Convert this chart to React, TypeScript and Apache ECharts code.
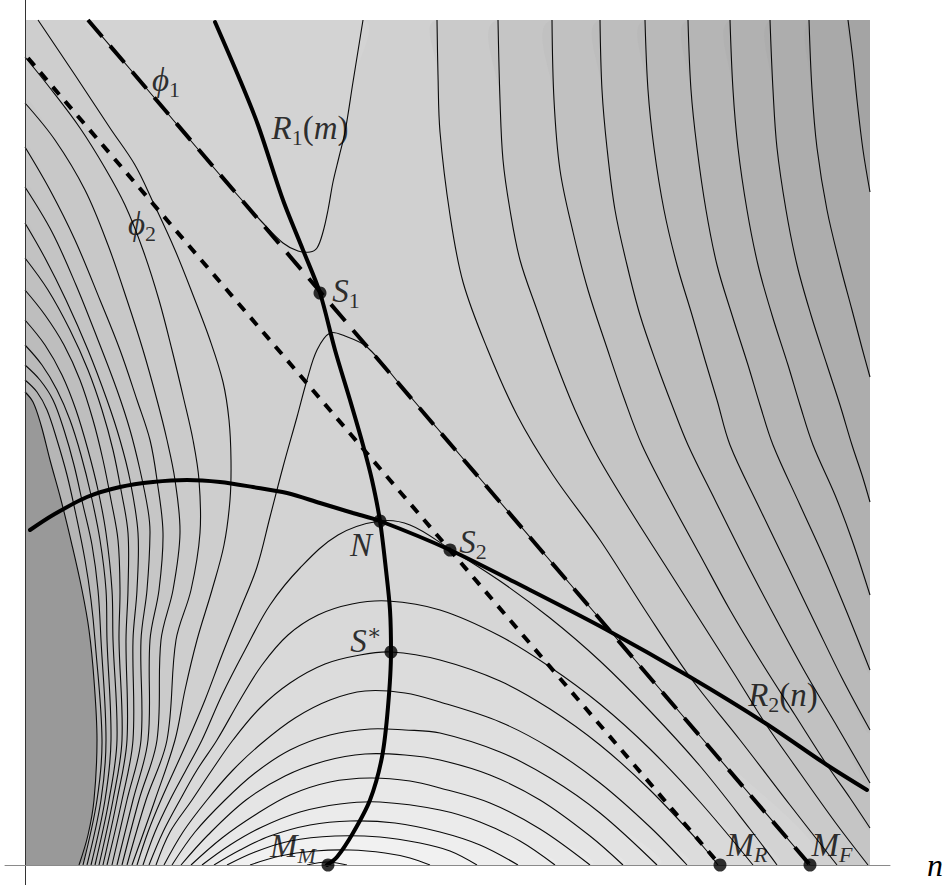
import React, { useEffect, useRef } from "react";
import * as echarts from "echarts";

type P = [number, number];

// Plot frame (axis units): n from 0 to 845, m from 0 to 845
const N_MAX = 845;
const M_MAX = 845;

// ---- Level curves, points are (n, m) ----
// left family (from the left/top edge down to the n axis)
const L0: P[] = [[0,473],[8,463],[16,440],[25,405],[36,365],[47,320],[57,275],[64,235],[69,185],[72,125],[69,65],[63,30],[54,0]];
const L1: P[] = [[0,485],[12,473],[22,455],[32,425],[42,390],[51,350],[60,305],[66,265],[70,225],[77,125],[72,65],[58,0]];
const L2: P[] = [[0,500],[15,485],[28,465],[39,435],[49,400],[58,360],[67,320],[73,275],[76,225],[81,125],[76,65],[62,0]];
const L3: P[] = [[0,520],[17,500],[32,475],[45,445],[56,410],[66,370],[75,325],[81,275],[82,225],[86,125],[80,65],[66,0]];
const L4: P[] = [[0,545],[20,520],[37,490],[51,455],[63,415],[73,375],[81,332],[87,275],[88,225],[92,125],[84,65],[70,0]];
const L5: P[] = [[0,575],[20,550],[39,520],[55,485],[68,445],[78,405],[86,365],[93,325],[95,275],[94,225],[97,125],[88,65],[74,0]];
const L6: P[] = [[0,607],[23,575],[45,535],[63,495],[77,455],[88,415],[96,375],[103,332],[103,275],[101,225],[102,125],[92,65],[78,0]];
const L7: P[] = [[0,642],[20,607],[41,565],[63,515],[82,465],[95,425],[105,385],[113,332],[112,275],[108,225],[108,125],[97,65],[82,0]];
const L8: P[] = [[0,678],[27,633],[51,580],[73,525],[92,475],[105,435],[115,395],[123,355],[125,332],[122,275],[116,225],[116,125],[102,65],[87,0]];
const L9: P[] = [[0,718],[25,675],[50,625],[75,565],[95,515],[112,465],[125,425],[132,385],[138,332],[134,275],[125,225],[123,125],[108,65],[92,0]];
const L10: P[] = [[0,762],[30,725],[60,675],[83,620],[102,565],[118,515],[132,465],[142,425],[150,385],[155,332],[148,275],[136,225],[132,125],[114,65],[97,0]];
const L11: P[] = [[0,808],[25,777],[55,737],[80,697],[100,660],[118,615],[134,565],[147,515],[159,465],[168,425],[174,385],[175,332],[166,275],[151,225],[142,125],[121,65],[102,0]];
const L12: P[] = [[13,845],[50,790],[85,737],[110,700],[128,663],[150,615],[168,570],[185,525],[198,483],[204,445],[206,405],[205,365],[199,320],[187,275],[172,225],[160,175],[150,125],[130,65],[107,0]];

// right family (from the top edge down to the right edge / n axis)
const Q1: P[] = [[412,845],[413,790],[415,733],[425,650],[438,583],[462,517],[492,450],[528,390],[575,325],[620,255],[665,188],[715,125],[765,60],[812,0]];
const Q2: P[] = [[473,845],[475,765],[478,705],[485,655],[495,605],[512,555],[530,505],[550,455],[572,410],[605,355],[640,300],[675,245],[710,190],[740,142],[775,92],[810,43],[843,0]];
const Q3: P[] = [[527,845],[529,765],[535,695],[548,633],[563,575],[582,517],[599,467],[617,420],[645,365],[675,310],[705,255],[735,205],[770,150],[802,100],[825,67],[845,37]];
const Q4: P[] = [[575,845],[577,775],[582,717],[590,655],[602,600],[615,550],[632,500],[647,460],[663,420],[690,365],[720,305],[750,248],[780,193],[813,137],[845,82]];
const Q5: P[] = [[620,845],[623,775],[629,717],[639,655],[652,600],[667,550],[680,505],[692,465],[705,420],[733,360],[763,298],[791,240],[818,185],[845,135]];
const Q6: P[] = [[663,845],[666,775],[672,717],[681,655],[692,600],[707,550],[723,500],[735,460],[748,420],[775,360],[800,305],[823,250],[845,195]];
const Q7: P[] = [[705,845],[708,775],[713,717],[722,655],[733,600],[747,550],[763,500],[775,460],[788,420],[810,370],[827,325],[845,270]];
const Q8: P[] = [[745,845],[748,775],[752,717],[761,655],[772,600],[786,550],[802,500],[815,460],[827,420],[837,390],[845,363]];
const Q9: P[] = [[784,845],[787,775],[792,717],[802,655],[815,600],[827,555],[837,517],[845,488]];
const Q10: P[] = [[823,845],[828,805],[832,765],[838,715],[845,673]];

// closed curves around the maximum M_M (outer to inner); CAP is the one just above the saddle
const CAP: P[] = [[112,0],[123,33],[136,65],[163,125],[180,165],[197,210],[215,255],[232,298],[245,348],[258,398],[272,448],[282,485],[292,515],[305,532],[320,529],[342,518],[378,477],[412,437],[475,363],[575,246],[675,129],[785,0]];
const A12: P[] = [[118,0],[130,33],[145,65],[161,95],[177,125],[197,170],[220,215],[245,260],[275,297],[313,330],[355,344],[385,340],[425,316],[475,284],[525,247],[575,204],[625,154],[675,99],[725,36],[752,0]];
const A11: P[] = [[124,0],[138,33],[155,65],[172,95],[192,125],[215,165],[237,200],[263,230],[293,250],[327,261],[363,264],[415,255],[475,229],[525,198],[575,161],[625,116],[675,63],[728,0]];
const A10: P[] = [[131,0],[145,33],[167,65],[187,95],[208,125],[235,157],[265,182],[300,201],[335,210],[366,213],[415,205],[475,184],[525,156],[575,120],[625,75],[675,22],[693,0]];
const A9: P[] = [[139,0],[158,33],[182,65],[208,95],[237,122],[270,147],[305,165],[340,174],[380,172],[415,163],[475,143],[525,117],[575,82],[625,38],[662,0]];
const A8: P[] = [[147,0],[170,33],[200,65],[230,92],[265,115],[305,130],[345,136],[380,135],[415,132],[475,113],[525,87],[575,52],[632,0]];
const A7: P[] = [[156,0],[183,30],[221,65],[260,89],[300,104],[340,111],[380,110],[415,105],[465,90],[515,65],[565,29],[598,0]];
const A6: P[] = [[166,0],[197,27],[230,50],[265,70],[305,83],[345,87],[385,84],[415,77],[465,62],[515,36],[565,0]];
const A5: P[] = [[177,0],[205,20],[237,38],[275,53],[315,61],[355,63],[415,55],[455,43],[495,24],[530,0]];
const A4: P[] = [[189,0],[215,15],[245,29],[285,40],[325,44],[370,42],[415,33],[455,20],[493,0]];
const A3: P[] = [[202,0],[230,13],[265,24],[310,29],[355,28],[395,22],[425,14],[452,0]];
const A2: P[] = [[225,0],[255,9],[290,14],[325,15],[360,12],[385,7],[405,0]];
const A1: P[] = [[282,0],[302,3],[322,0]];

// curve opening to the top above S1
const U: P[] = [[63,845],[105,796],[155,737],[208,675],[237,643],[258,622],[273,614],[285,613],[292,617],[298,633],[303,655],[308,683],[314,708],[320,733],[328,783],[338,845]];

// reaction curves and isoclines
const R1: P[] = [[190,843],[215,785],[233,740],[258,665],[278,615],[295,572],[310,515],[325,465],[338,420],[347,385],[355,344],[361,295],[365,255],[366,213],[363,158],[357,108],[345,65],[328,32],[312,8],[302,0]];
const R2: P[] = [[5,335],[28,350],[62,368],[95,378],[128,383],[162,385],[195,383],[228,378],[262,372],[295,362],[328,352],[355,344],[425,315],[505,275],[582,235],[665,188],[740,142],[802,100],[842,75]];
const PHI1: P[] = [[63,845],[785,0]];
const PHI2: P[] = [[3,807],[695,0]];

// marked points
const pointNames = ["S1", "N", "S2", "S*", "MM", "MR", "MF"];
const pointValues: P[] = [[295,572],[355,344],[425,315],[366,213],[303,0],[695,0],[785,0]];

// shading (gray levels) of the bands
const baseShade = 208;
const leftShade = [153,182,184,186,188,190,192,194,196,198,200,203,206];
const rightShade = [202,197,193,189,185,181,177,173,169,164];
const hillShade = [211,214,217,220,223,226,229,232,235,238,241,245,249];
const upperShade = 211;

// labels
const labelTexts = [
  "{i|ϕ}{s|1}",
  "{i|R}{s|1}{r|(}{i|m}{r|)}",
  "{i|ϕ}{s|2}",
  "{i|S}{s|1}",
  "{i|N}",
  "{i|S}{s|2}",
  "{i|S}{p|∗}",
  "{i|R}{s|2}{r|(}{i|n}{r|)}",
  "{i|M}{si|M}",
  "{i|M}{si|R}",
  "{i|M}{si|F}",
];
const labelAnchors: P[] = [[141,785],[285,737],[117,641],[321,574],[336,320],[448,323],[341,224],[758,170],[268,19],[722,20],[807,20]];

const leftLines = [L0, L1, L2, L3, L4, L5, L6, L7, L8, L9, L10, L11, L12];
const rightLines = [Q1, Q2, Q3, Q4, Q5, Q6, Q7, Q8, Q9, Q10];
const hills = [CAP, A12, A11, A10, A9, A8, A7, A6, A5, A4, A3, A2, A1];

const FONT = "'Liberation Serif', 'DejaVu Serif', serif";
const gray = (v: number) => `rgb(${v},${v},${v})`;

function buildRegions() {
  const regions: { pts: P[]; c: number }[] = [];
  regions.push({ pts: [[0, 0], [N_MAX, 0], [N_MAX, M_MAX], [0, M_MAX]], c: baseShade });
  for (let k = leftLines.length - 1; k >= 0; k--) {
    const l = leftLines[k];
    const pts: P[] = l[0][1] === M_MAX ? [...l, [0, 0], [0, M_MAX]] : [...l, [0, 0]];
    regions.push({ pts, c: leftShade[k] });
  }
  rightLines.forEach((l, k) => {
    const last = l[l.length - 1];
    const pts: P[] = last[1] === 0 ? [...l, [N_MAX, 0], [N_MAX, M_MAX]] : [...l, [N_MAX, M_MAX]];
    regions.push({ pts, c: rightShade[k] });
  });
  hills.forEach((l, k) => regions.push({ pts: [...l], c: hillShade[k] }));
  regions.push({ pts: [...U], c: upperShade });
  return regions;
}

export default function App() {
  const ref = useRef<HTMLDivElement>(null);
  useEffect(() => {
    if (!ref.current) return;
    const chart = echarts.init(ref.current, undefined, { renderer: "svg" });
    const regions = buildRegions();
    const strokes = [...leftLines, ...rightLines, ...hills, U];
    const SM = 0.35;

    const rich = {
      i: { fontFamily: FONT, fontStyle: "italic", fontSize: 33, color: "#000", lineHeight: 40, verticalAlign: "middle" },
      r: { fontFamily: FONT, fontSize: 33, color: "#000", lineHeight: 40, verticalAlign: "middle" },
      s: { fontFamily: FONT, fontSize: 22, color: "#000", lineHeight: 23, verticalAlign: "bottom" },
      si: { fontFamily: FONT, fontStyle: "italic", fontSize: 22, color: "#000", lineHeight: 23, verticalAlign: "bottom" },
      p: { fontFamily: FONT, fontSize: 22, color: "#000", lineHeight: 23, verticalAlign: "top" },
    };

    const option: any = {
      animation: false,
      backgroundColor: "#fff",
      grid: { left: 5, right: 59, top: 0, bottom: 0, containLabel: false },
      xAxis: {
        type: "value", min: -20, max: 865, z: 10,
        axisLine: { show: true, onZero: true, lineStyle: { color: "#8a8a8a", width: 1 } },
        axisTick: { show: false }, axisLabel: { show: false }, splitLine: { show: false },
        name: "n", nameLocation: "end", nameGap: 37,
        nameTextStyle: { fontFamily: FONT, fontStyle: "italic", fontSize: 32, color: "#000", verticalAlign: "middle" },
      },
      yAxis: {
        type: "value", min: -20, max: 865, z: 10,
        axisLine: { show: true, onZero: true, lineStyle: { color: "#333", width: 1 } },
        axisTick: { show: false }, axisLabel: { show: false }, splitLine: { show: false },
      },
      series: [
        {
          type: "custom", name: "bands", z: 1, silent: true,
          data: [[0, 0]],
          renderItem: (_p: any, api: any) => {
            const box = [api.coord([0, M_MAX]), api.coord([N_MAX, 0])];
            return {
              type: "group",
              children: regions.map((r) => ({
                type: "polygon",
                shape: { points: r.pts.map((p) => api.coord(p)), smooth: SM, smoothConstraint: box },
                style: { fill: gray(r.c) },
              })),
            };
          },
        },
        {
          type: "custom", name: "levels", z: 2, silent: true,
          data: [[0, 0]],
          renderItem: (_p: any, api: any) => ({
            type: "group",
            children: strokes.map((l) => ({
              type: "polyline",
              shape: { points: l.map((p) => api.coord(p)), smooth: SM },
              style: { stroke: "#0a0a0a", lineWidth: 1.1, fill: "none" },
            })),
          }),
        },
        {
          type: "line", name: "phi1", z: 4, data: PHI1, showSymbol: false, silent: true,
          lineStyle: { color: "#000", width: 4, type: [22, 12] },
        },
        {
          type: "line", name: "phi2", z: 4, data: PHI2, showSymbol: false, silent: true,
          lineStyle: { color: "#000", width: 4, type: [10, 9] },
        },
        {
          type: "line", name: "R1", z: 5, data: R1, showSymbol: false, smooth: 0.3, silent: true,
          lineStyle: { color: "#000", width: 4, cap: "round" },
        },
        {
          type: "line", name: "R2", z: 5, data: R2, showSymbol: false, smooth: 0.3, silent: true,
          lineStyle: { color: "#000", width: 4, cap: "round" },
        },
        {
          type: "scatter", name: "points", z: 20, symbol: "circle", symbolSize: 13, silent: true,
          itemStyle: { color: "#000" },
          data: pointValues.map((v, i) => ({ name: pointNames[i], value: v })),
        },
        {
          type: "scatter", name: "labels", z: 21, symbol: "circle", symbolSize: 1, silent: true,
          itemStyle: { color: "rgba(0,0,0,0)" },
          label: { show: true, position: "inside", rich },
          data: labelAnchors.map((v, i) => ({ value: v, label: { formatter: labelTexts[i] } })),
        },
      ],
    };
    chart.setOption(option);
    return () => chart.dispose();
  }, []);
  return <div ref={ref} style={{ position: "absolute", left: 0, top: 0, width: 949, height: 885 }} />;
}
